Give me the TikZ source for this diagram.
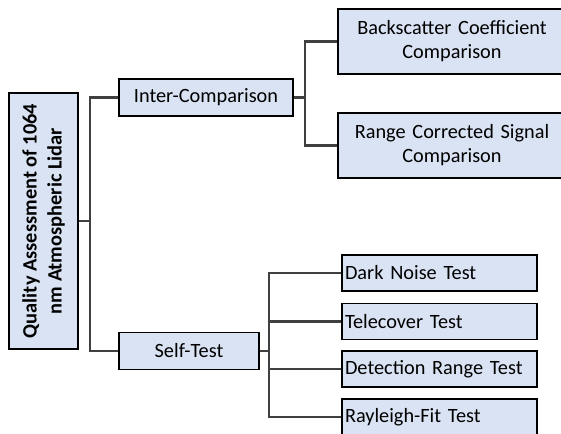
\documentclass[tikz,border=0pt]{standalone}
\usepackage{fontspec}
\setmainfont{Carlito}
\usepackage{xcolor}
\usepackage{tikz}
\usetikzlibrary{positioning}
\definecolor{boxblue}{HTML}{DAE3F3}
\definecolor{linkgray}{HTML}{404040}

\begin{document}
\begin{tikzpicture}[x=1pt, y=-1pt, font=\fontsize{20.3}{24}\selectfont,
      box/.style={draw=black, line width=1.6pt, fill=boxblue, inner sep=2pt},
      mainbox/.style={box, align=center, font=\fontsize{20.4}{25}\selectfont\bfseries, rotate=90, minimum width=256pt, minimum height=69pt},
      midbox/.style={box, align=center, minimum height=37pt},
      cmpbox/.style={box, align=center, text width=224pt, minimum height=65pt},
      testbox/.style={box, align=left, text width=189pt, inner xsep=3pt, minimum height=36pt},
      link/.style={draw=linkgray, line width=2.6pt}]
    \useasboundingbox (0,0) rectangle (561,433);
    % --- Level 1: the assessment ---
    \node[mainbox] (root) at (43.5,221) {Quality Assessment of 1064\\nm Atmospheric Lidar};
    % --- Level 2: the two branches ---
    \node[midbox, minimum width=174pt] (inter) at (206,97.5) {Inter-Comparison};
    \node[midbox, minimum width=140pt] (self)  at (189,351)  {Self-Test};
    \coordinate (trunk1) at (90,221);
    \draw[link] (root.south) -- (trunk1);
    \draw[link] (trunk1) |- (inter.west);
    \draw[link] (trunk1) |- (self.west);
    % --- Level 3: comparisons ---
    \node[cmpbox] (bsc) at (452,41.5)  {Backscatter Coefficient\\Comparison};
    \node[cmpbox] (rcs) at (452,145.5) {Range Corrected Signal\\Comparison};
    \coordinate (trunk2) at (305,97.5);
    \draw[link] (inter.east) -- (trunk2);
    \draw[link] (trunk2) |- (bsc.west);
    \draw[link] (trunk2) |- (rcs.west);
    % --- Level 3: self-tests ---
    \node[testbox] (dark)  at (439.5,273)   {Dark Noise Test};
    \node[testbox] (tele)  at (439.5,321.5) {Telecover Test};
    \node[testbox] (detr)  at (439.5,369)   {Detection Range Test};
    \node[testbox] (rayl)  at (439.5,417)   {Rayleigh-Fit Test};
    \coordinate (trunk3) at (269,351);
    \draw[link] (self.east) -- (trunk3);
    \draw[link] (trunk3) |- (dark.west);
    \draw[link] (trunk3) |- (tele.west);
    \draw[link] (trunk3) |- (detr.west);
    \draw[link] (trunk3) |- (rayl.west);
  \end{tikzpicture}
\end{document}
